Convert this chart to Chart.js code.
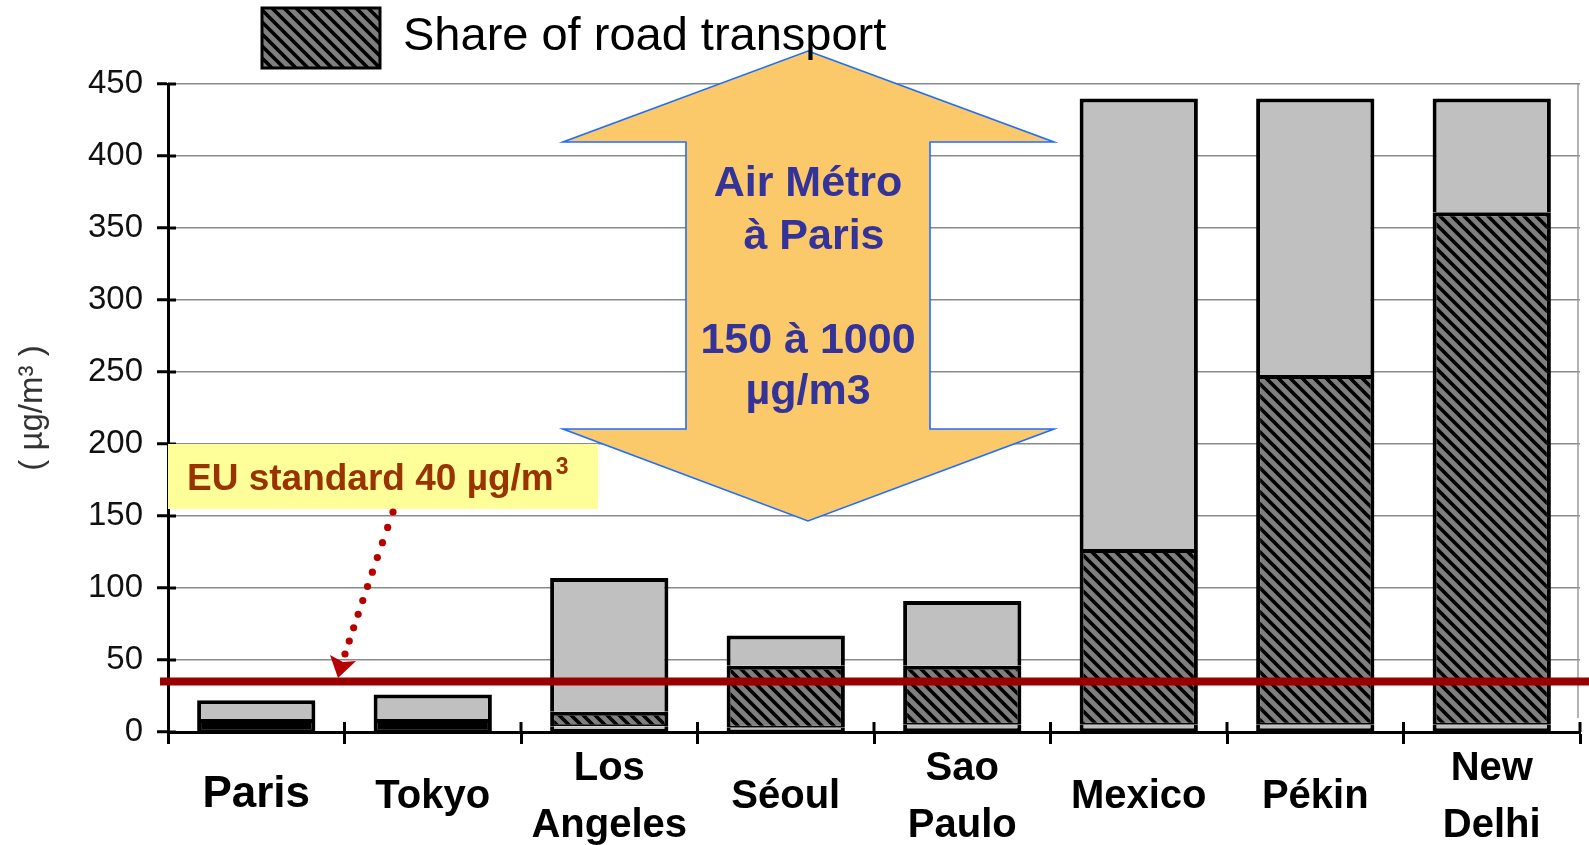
<!DOCTYPE html>
<html><head><meta charset="utf-8">
<script src="https://cdn.jsdelivr.net/npm/chart.js@4"></script>
<style>html,body{margin:0;padding:0;background:#fff;overflow:hidden}</style>
</head><body>
<canvas id="c" width="1589" height="845" style="display:block;width:1589px;height:845px"></canvas>
<script>
// ---- data ----
const categories = ['Paris', 'Tokyo', ['Los', 'Angeles'], 'Séoul', ['Sao', 'Paulo'], 'Mexico', 'Pékin', ['New', 'Delhi']];
const baseValues  = [0, 0, 4, 3, 5, 5, 5, 5];          // thin light-grey background part
const roadValues  = [9, 9, 10, 43, 41, 122, 243, 356];  // share of road transport (hatched)
const otherValues = [13, 17, 93, 21, 45, 313, 192, 79]; // remaining part (light grey)
const yTickValues = [0, 50, 100, 150, 200, 250, 300, 350, 400, 450];
const euLimit = 35;
const legendLabel = 'Share of road transport';
const euLabel = 'EU standard 40 µg/m';
const arrowLines = ['Air Métro', ' à Paris', '150 à 1000', 'µg/m3'];
const yTitle = '( µg/m³ )';

const FONT = "'Liberation Sans', Arial, sans-serif";

function makeHatch() {
  const t = document.createElement('canvas');
  t.width = 12; t.height = 12;
  const g = t.getContext('2d');
  g.fillStyle = '#7f7f7f'; g.fillRect(0, 0, 12, 12);
  g.strokeStyle = '#000'; g.lineWidth = 3.6;
  g.beginPath();
  for (let k = -1; k <= 1; k++) { g.moveTo(-3, -3 + 12 * k); g.lineTo(15, 15 + 12 * k); }
  g.stroke();
  return document.getElementById('c').getContext('2d').createPattern(t, 'repeat');
}
const hatch = makeHatch();
const roadColors = roadValues.map((v, i) => (i < 2 ? '#000000' : hatch));

const annot = {
  id: 'annot',
  beforeDraw(chart) {
    const c = chart.ctx;
    c.save(); c.fillStyle = '#ffffff'; c.fillRect(0, 0, chart.width, chart.height); c.restore();
  },
  beforeDatasetsDraw(chart) {
    const c = chart.ctx, a = chart.chartArea;
    c.save();
    // right frame line
    c.strokeStyle = '#9a9a9a'; c.lineWidth = 1.5;
    c.beginPath(); c.moveTo(a.right - 2, a.top); c.lineTo(a.right - 2, a.bottom - 14); c.stroke();
    // tick marks crossing the axes
    c.strokeStyle = '#000'; c.lineWidth = 3;
    const ys = chart.scales.y;
    ys.ticks.forEach(t => {
      const py = ys.getPixelForValue(t.value);
      c.beginPath(); c.moveTo(a.left, py); c.lineTo(a.left + 8, py); c.stroke();
    });
    const step = (a.right - a.left) / categories.length;
    for (let i = 1; i <= categories.length; i++) {
      const px = a.left + step * i;
      c.beginPath(); c.moveTo(px, a.bottom - 10); c.lineTo(px, a.bottom); c.stroke();
    }
    // EU label box
    c.fillStyle = '#ffff99';
    c.fillRect(168, 444, 430, 65);
    // big double arrow
    c.beginPath();
    c.moveTo(808, 51); c.lineTo(1054, 142); c.lineTo(930, 142); c.lineTo(930, 429);
    c.lineTo(1054, 429); c.lineTo(808, 521); c.lineTo(563, 429); c.lineTo(686, 429);
    c.lineTo(686, 142); c.lineTo(563, 142); c.closePath();
    c.fillStyle = '#fcc96a'; c.fill();
    c.strokeStyle = '#1f6dff'; c.lineWidth = 1.6; c.stroke();
    c.fillStyle = '#333399';
    c.font = 'bold 43px ' + FONT;
    c.textAlign = 'center'; c.textBaseline = 'middle';
    const ty = [184, 237, 341, 392];
    arrowLines.forEach((t, i) => c.fillText(t, 808, ty[i]));
    c.restore();
  },
  afterDatasetsDraw(chart) {
    const c = chart.ctx;
    const y = chart.scales.y.getPixelForValue(euLimit);
    c.save();
    // EU limit line
    c.strokeStyle = '#990000'; c.lineWidth = 8;
    c.beginPath(); c.moveTo(160, y); c.lineTo(chart.width, y); c.stroke();
    // EU label
    c.fillStyle = '#993300';
    c.font = 'bold 37px ' + FONT;
    c.textAlign = 'left'; c.textBaseline = 'alphabetic';
    c.fillText(euLabel, 187, 490);
    const w = c.measureText(euLabel).width;
    c.font = 'bold 23px ' + FONT;
    c.fillText('3', 187 + w + 2, 474);
    // dotted pointer
    c.fillStyle = '#b80000';
    const p0 = [393, 512], p1 = [366, 590], p2 = [345, 654];
    for (let i = 0; i <= 10; i++) {
      const t = i / 10, u = 1 - t;
      const x = u * u * p0[0] + 2 * u * t * p1[0] + t * t * p2[0];
      const yy = u * u * p0[1] + 2 * u * t * p1[1] + t * t * p2[1];
      c.beginPath(); c.arc(x, yy, 3.6, 0, Math.PI * 2); c.fill();
    }
    c.beginPath();
    c.moveTo(338, 678); c.lineTo(330, 655); c.lineTo(343, 662); c.lineTo(356, 661); c.closePath();
    c.fill();
    // legend
    c.fillStyle = hatch; c.fillRect(262, 8, 118, 60);
    c.strokeStyle = '#000'; c.lineWidth = 3; c.strokeRect(262, 8, 118, 60);
    c.fillStyle = '#000';
    c.font = '47px ' + FONT;
    c.textBaseline = 'middle';
    c.fillText(chart.data.datasets[1].label, 403, 37);
    c.restore();
  }
};

new Chart(document.getElementById('c'), {
  type: 'bar',
  data: {
    labels: categories,
    datasets: [
      { label: 'base', data: baseValues, backgroundColor: '#c0c0c0', borderColor: '#000',
        borderWidth: { left: 4, right: 4, bottom: 3, top: 0 }, borderSkipped: false },
      { label: legendLabel, data: roadValues, backgroundColor: roadColors, borderColor: '#000',
        borderWidth: { left: 4, right: 4, top: 4, bottom: 2 }, borderSkipped: false },
      { label: 'other', data: otherValues, backgroundColor: '#c0c0c0', borderColor: '#000',
        borderWidth: { left: 4, right: 4, top: 4, bottom: 0 }, borderSkipped: false }
    ]
  },
  options: {
    responsive: false,
    devicePixelRatio: 1,
    animation: false,
    layout: { padding: { top: 84, right: 9, left: 0, bottom: 0 } },
    datasets: { bar: { categoryPercentage: 1, barPercentage: 0.67 } },
    plugins: { legend: { display: false }, tooltip: { enabled: false } },
    scales: {
      x: {
        stacked: true,
        afterFit(s) { s.height = 113; },
        border: { color: '#000', width: 3 },
        grid: { drawOnChartArea: false, drawTicks: true, tickLength: 12, tickWidth: 3, tickColor: '#000', offset: true },
        ticks: {
          color: '#000', padding: 25, crossAlign: 'center', maxRotation: 0, autoSkip: false,
          font: (ctx) => ({ family: FONT, weight: 'bold', size: ctx.index === 0 ? 44 : 40, lineHeight: 1.42 })
        }
      },
      y: {
        stacked: true,
        min: 0, max: 450,
        afterFit(s) { s.width = 168; },
        afterBuildTicks(s) { s.ticks = yTickValues.map(v => ({ value: v })); },
        border: { color: '#000', width: 3 },
        grid: { color: '#8a8a8a', lineWidth: 1.5, tickColor: '#000', tickWidth: 3, tickLength: 11 },
        ticks: { color: '#111', padding: 14, font: { family: FONT, size: 33 } },
        title: { display: true, text: yTitle, color: '#333', font: { family: FONT, size: 33 }, padding: { top: 13, bottom: 0 } }
      }
    }
  },
  plugins: [annot]
});
</script>
</body></html>
